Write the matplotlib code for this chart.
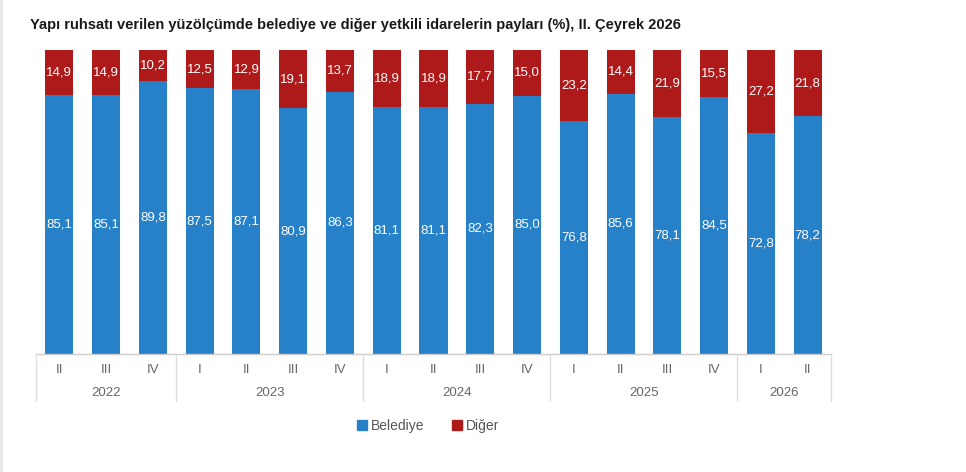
import matplotlib.pyplot as plt
from matplotlib.lines import Line2D
from matplotlib.patches import Rectangle

quarters = ["II", "III", "IV", "I", "II", "III", "IV", "I", "II", "III", "IV",
            "I", "II", "III", "IV", "I", "II"]
years = ["2022", "2023", "2024", "2025", "2026"]
year_counts = [3, 4, 4, 4, 2]
belediye = [85.1, 85.1, 89.8, 87.5, 87.1, 80.9, 86.3, 81.1, 81.1, 82.3, 85.0,
            76.8, 85.6, 78.1, 84.5, 72.8, 78.2]
diger = [14.9, 14.9, 10.2, 12.5, 12.9, 19.1, 13.7, 18.9, 18.9, 17.7, 15.0,
         23.2, 14.4, 21.9, 15.5, 27.2, 21.8]

BLUE = "#2681c8"
RED = "#ae1919"
W, H = 966, 472

plt.rcParams["font.family"] = ["Liberation Sans", "DejaVu Sans"]

fig = plt.figure(figsize=(W / 100, H / 100), dpi=100)
ax = fig.add_axes([36 / W, (H - 354) / H, 795 / W, 304 / H])

x = list(range(len(quarters)))
ax.bar(x, belediye, width=0.6, color=BLUE, label="Belediye")
ax.bar(x, diger, width=0.6, bottom=belediye, color=RED, label="Diğer")

for i in x:
    ax.text(i, belediye[i] / 2, f"{belediye[i]:.1f}".replace(".", ","),
            ha="center", va="center", color="white", fontsize=9.5)
    ax.text(i, belediye[i] + diger[i] / 2, f"{diger[i]:.1f}".replace(".", ","),
            ha="center", va="center", color="white", fontsize=9.5)

ax.set_xlim(-0.5, len(quarters) - 0.5)
ax.set_ylim(0, 100)
ax.axis("off")

# baseline
ax.plot([-0.5, len(quarters) - 0.5], [0, 0], color="#cccccc", lw=1, clip_on=False)

# quarter labels
for i, q in enumerate(quarters):
    ax.text(i, -5.3, q, ha="center", va="center", color="#666666", fontsize=9.5)

# year labels and separators
tr = ax.get_xaxis_transform()
start = -0.5
seps = [start]
for yr, n in zip(years, year_counts):
    mid = start + n / 2
    ax.text(mid, -12.8, yr, ha="center", va="center", color="#666666", fontsize=9.5)
    start += n
    seps.append(start)
for s in seps:
    ax.add_line(Line2D([s, s], [0, -0.155], transform=tr, color="#dddddd",
                       lw=1, clip_on=False))

fig.text(30 / W, 1 - 25 / H,
         "Yapı ruhsatı verilen yüzölçümde belediye ve diğer yetkili idarelerin payları (%), II. Çeyrek 2026",
         fontsize=10.5, fontweight="bold", color="#1a1a1a", va="center", ha="left")

handles = [Rectangle((0, 0), 1, 1, color=BLUE), Rectangle((0, 0), 1, 1, color=RED)]
fig.legend(handles, ["Belediye", "Diğer"], loc="center",
           bbox_to_anchor=(428 / W, 1 - 426 / H), ncol=2, frameon=False,
           fontsize=10, handlelength=0.7, handleheight=0.7, handletextpad=0.3,
           columnspacing=2.0, labelcolor="#555555")

fig.add_artist(Rectangle((0, 0), 3 / W, 1, transform=fig.transFigure,
                         color="#e8e8e8", lw=0))

fig.savefig("out.png", dpi=100)
